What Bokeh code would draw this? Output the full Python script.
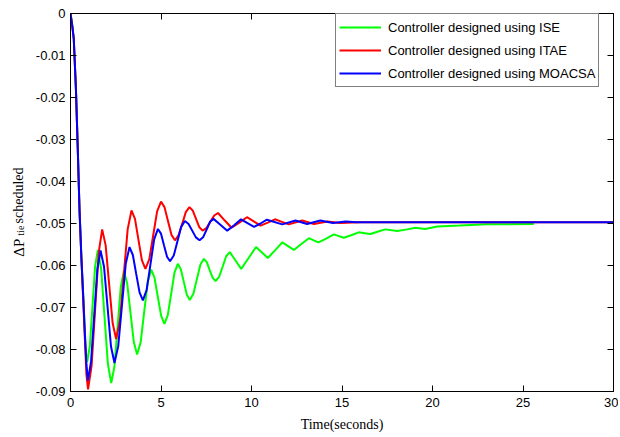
import math
from bokeh.plotting import figure
from bokeh.layouts import row
from bokeh.models import LinearAxis, Legend, LegendItem, FixedTicker, Range1d, ColumnDataSource
from bokeh.core.properties import value
from bokeh.embed import file_html
from bokeh.resources import INLINE

# ---------------- data ----------------
x_ticks = [0, 5, 10, 15, 20, 25, 30]
x_tick_labels = ["0", "5", "10", "15", "20", "25", "30"]
y_ticks = [0, -0.01, -0.02, -0.03, -0.04, -0.05, -0.06, -0.07, -0.08, -0.09]
y_tick_labels = ["0", "-0.01", "-0.02", "-0.03", "-0.04", "-0.05", "-0.06", "-0.07", "-0.08", "-0.09"]

series_names = ["Controller designed using ISE",
                "Controller designed using ITAE",
                "Controller designed using MOACSA"]

t_ise = [0, 0.1, 0.18, 0.3, 0.4, 0.5, 0.6, 0.7, 0.8, 0.86, 0.92,
         1.07, 1.215, 1.36, 1.51, 1.695, 1.88, 2.065, 2.25,
         2.425, 2.6, 2.775, 2.95, 3.13, 3.315, 3.5, 3.68,
         3.875, 4.07, 4.265, 4.46, 4.64, 4.825, 5.01, 5.19,
         5.375, 5.56, 5.745, 5.93, 6.095, 6.26, 6.425, 6.59,
         6.785, 6.98, 7.175, 7.37, 7.53, 7.69, 7.85, 8.01,
         8.21, 8.405, 8.6, 8.8, 9.115, 9.43, 9.84, 10.25,
         10.575, 10.9, 11.3, 11.7, 12.02, 12.34, 12.755, 13.17,
         13.435, 13.7, 14.125, 14.55, 14.825, 15.1, 15.5, 15.93,
         16.25, 16.57, 17.0, 17.4, 18.05, 18.6, 19.06, 19.6,
         20.26, 21.5, 23.0, 25.6]
y_ise = [0, -0.003, -0.006, -0.018, -0.032, -0.047, -0.058, -0.067, -0.076, -0.081, -0.083,
         -0.0791, -0.0697, -0.0602, -0.0563, -0.0609, -0.0722, -0.0834, -0.088,
         -0.0841, -0.0747, -0.0652, -0.0613, -0.0642, -0.0713, -0.0783, -0.0812,
         -0.0783, -0.0711, -0.0640, -0.0610, -0.0629, -0.0675, -0.0720, -0.0739,
         -0.0718, -0.0668, -0.0617, -0.0596, -0.0609, -0.0639, -0.0669, -0.0682,
         -0.0668, -0.0633, -0.0598, -0.0584, -0.0592, -0.0611, -0.0629, -0.0637,
         -0.0627, -0.0603, -0.0578, -0.0568, -0.0588, -0.0608, -0.0582, -0.0556,
         -0.0569, -0.0582, -0.0564, -0.0545, -0.0554, -0.0563, -0.0549, -0.0535,
         -0.0540, -0.0545, -0.0536, -0.0526, -0.0530, -0.0534, -0.0528, -0.0521,
         -0.0523, -0.0525, -0.0519, -0.0514, -0.0518, -0.0514, -0.0510, -0.0513,
         -0.0507, -0.0505, -0.0502, -0.0501]

t_itae = [0, 0.1, 0.18, 0.3, 0.4, 0.5, 0.6, 0.7, 0.8, 0.88, 0.97,
          1.165, 1.36, 1.555, 1.75, 1.9425, 2.135, 2.3275, 2.52,
          2.7325, 2.945, 3.1575, 3.37, 3.5625, 3.755, 3.9475, 4.14,
          4.355, 4.57, 4.785, 5.0, 5.1925, 5.385, 5.5775, 5.77,
          5.97, 6.17, 6.37, 6.57, 6.75, 6.935, 7.12, 7.3,
          7.51, 7.725, 7.94, 8.15, 8.525, 8.9, 9.325, 9.75,
          10.125, 10.5, 10.9, 11.3, 11.68, 12.06, 12.8, 13.45,
          14.2, 14.9, 16.0, 30.0]
y_itae = [0, -0.003, -0.006, -0.018, -0.032, -0.047, -0.058, -0.068, -0.078, -0.086, -0.0895,
          -0.0839, -0.0705, -0.0570, -0.0514, -0.0552, -0.0645, -0.0737, -0.0775,
          -0.0730, -0.0622, -0.0514, -0.0469, -0.0489, -0.0539, -0.0588, -0.0608,
          -0.0585, -0.0528, -0.0471, -0.0448, -0.0461, -0.0494, -0.0527, -0.0540,
          -0.0528, -0.0501, -0.0473, -0.0461, -0.0469, -0.0489, -0.0509, -0.0517,
          -0.0511, -0.0496, -0.0481, -0.0475, -0.0493, -0.0510, -0.0498, -0.0485,
          -0.0495, -0.0505, -0.0498, -0.0490, -0.0496, -0.0502, -0.0493, -0.0501,
          -0.0495, -0.0499, -0.0497, -0.0497]

t_moacsa = [0, 0.1, 0.18, 0.3, 0.4, 0.5, 0.6, 0.7, 0.8, 0.88, 0.96,
            1.135, 1.31, 1.485, 1.66, 1.8525, 2.045, 2.2375, 2.43,
            2.6375, 2.845, 3.0525, 3.26, 3.445, 3.63, 3.815, 4.0,
            4.2075, 4.415, 4.6225, 4.83, 4.9975, 5.165, 5.3325, 5.5,
            5.705, 5.91, 6.115, 6.32, 6.5225, 6.725, 6.9275, 7.13,
            7.3225, 7.515, 7.7075, 7.9, 8.28, 8.66, 9.04, 9.42,
            9.78, 10.14, 10.5, 10.85, 11.7, 12.43, 13.07, 13.8,
            14.5, 15.2, 15.8, 30.0]
y_moacsa = [0, -0.003, -0.006, -0.018, -0.032, -0.047, -0.058, -0.067, -0.077, -0.0835, -0.0874,
            -0.0829, -0.0719, -0.0609, -0.0564, -0.0603, -0.0698, -0.0793, -0.0832,
            -0.0792, -0.0694, -0.0596, -0.0556, -0.0575, -0.0620, -0.0664, -0.0683,
            -0.0658, -0.0598, -0.0538, -0.0513, -0.0524, -0.0552, -0.0579, -0.0590,
            -0.0576, -0.0542, -0.0508, -0.0494, -0.0501, -0.0517, -0.0533, -0.0540,
            -0.0533, -0.0515, -0.0496, -0.0489, -0.0503, -0.0517, -0.0504, -0.0490,
            -0.0499, -0.0508, -0.0500, -0.0491, -0.0502, -0.0493, -0.0501, -0.0493,
            -0.0499, -0.0495, -0.0497, -0.0497]

# y-axis title pieces: text, font size, anchor (y in data units of the axis)
ylabel_texts = ["ΔP", "tie", "scheduled"]
ylabel_sizes = ["15px", "10px", "14px"]
ylabel_y = [-0.0579, -0.0529, -0.0500]
ylabel_x = [18, 20, 18]

colors = ["#00FF00", "#FF0000", "#0000FF"]

TOP, BOTTOM, FRAME_H = 13, 44, 378

# ---------------- main figure ----------------
p = figure(frame_width=543, frame_height=FRAME_H,
           x_range=Range1d(0, 30), y_range=Range1d(-0.09, 0),
           output_backend="svg", toolbar_location=None,
           min_border_left=40, min_border_right=5, min_border_top=TOP, min_border_bottom=BOTTOM,
           background_fill_color="white", border_fill_color="white")
p.grid.visible = False
p.outline_line_color = "black"
p.outline_line_width = 1

xs = [t_ise, t_itae, t_moacsa]
ys = [y_ise, y_itae, y_moacsa]
renderers = []
for tx, ty, c in zip(xs, ys, colors):
    r = p.line(tx, ty, line_color=c, line_width=2)
    renderers.append(r)

tick_font = "Liberation Sans"

def style_axis(ax, ticks, labels=None, show_labels=True):
    ax.ticker = FixedTicker(ticks=ticks)
    ax.major_tick_in = 6
    ax.major_tick_out = 0
    ax.minor_tick_in = 0
    ax.minor_tick_out = 0
    ax.axis_line_color = "black"
    ax.axis_line_width = 1
    ax.major_tick_line_color = "black"
    if show_labels:
        ax.major_label_overrides = dict(zip(ticks, labels))
        ax.major_label_text_font = tick_font
        ax.major_label_text_font_size = "13px"
        ax.major_label_text_color = "black"
    else:
        ax.major_label_overrides = {t: "" for t in ticks}
        ax.major_label_text_font_size = "1px"
        ax.major_label_standoff = 0

xa = p.xaxis[0]
style_axis(xa, x_ticks, x_tick_labels)
xa.major_label_standoff = 6
xa.axis_label = "Time(seconds)"
xa.axis_label_text_font = "Liberation Serif"
xa.axis_label_text_font_size = "14px"
xa.axis_label_text_font_style = "normal"
xa.axis_label_text_color = "black"
xa.axis_label_standoff = 7

ya = p.yaxis[0]
style_axis(ya, y_ticks, y_tick_labels)
ya.major_label_standoff = 5

top = LinearAxis()
style_axis(top, x_ticks, show_labels=False)
p.add_layout(top, "above")
right = LinearAxis()
style_axis(right, y_ticks, show_labels=False)
p.add_layout(right, "right")

legend = Legend(items=[LegendItem(label=n, renderers=[r]) for n, r in zip(series_names, renderers)],
                location=(265, 304))
legend.label_text_font = tick_font
legend.label_text_font_size = "13px"
legend.label_text_color = "black"
legend.border_line_color = "black"
legend.border_line_width = 1
legend.background_fill_color = "white"
legend.background_fill_alpha = 1
legend.padding = 3
legend.margin = 0
legend.spacing = 3
legend.label_height = 20
legend.glyph_height = 20
legend.glyph_width = 42
legend.label_standoff = 7
p.add_layout(legend)

# ---------------- narrow strip holding the rotated y-axis title ----------------
lf = figure(frame_width=30, frame_height=FRAME_H,
            x_range=Range1d(0, 30), y_range=Range1d(-0.09, 0),
            output_backend="svg", toolbar_location=None,
            min_border_left=0, min_border_right=0, min_border_top=TOP, min_border_bottom=BOTTOM,
            background_fill_color="white", border_fill_color="white")
lf.axis.visible = False
lf.grid.visible = False
lf.outline_line_color = None
src = ColumnDataSource(dict(x=ylabel_x, y=ylabel_y, text=ylabel_texts, size=ylabel_sizes))
lf.text(x="x", y="y", text="text", text_font_size="size", source=src,
        angle=math.pi / 2, text_font=value("Liberation Serif"),
        text_align="left", text_baseline="alphabetic", text_color="black")

layout = row(lf, p)
open("out.html", "w").write(file_html(layout, INLINE))
